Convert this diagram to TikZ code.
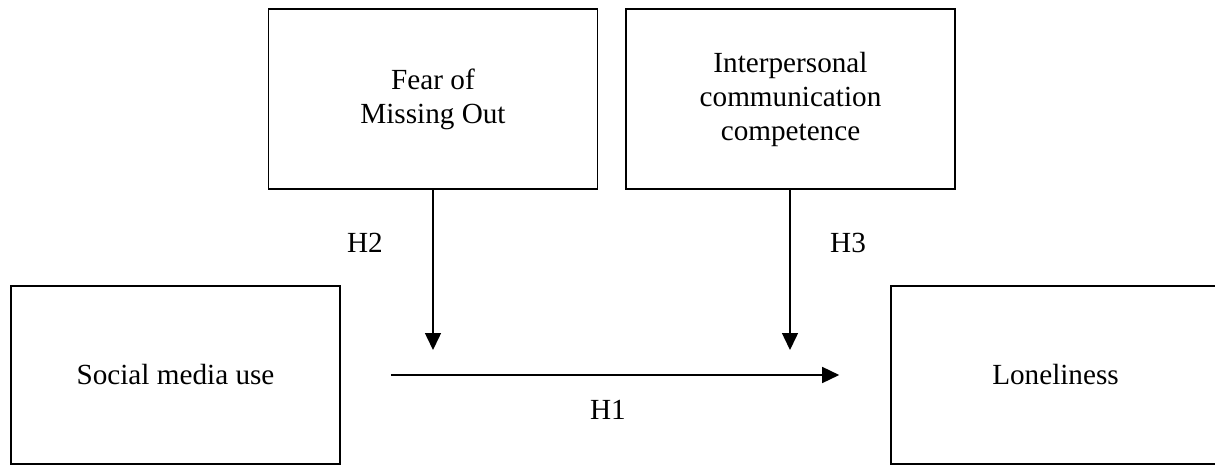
\documentclass[tikz,border=0pt]{standalone}
\usepackage{fontspec}
\setmainfont{Liberation Serif}
\usetikzlibrary{arrows.meta}

\tikzset{
    box/.style={draw, line width=0.8pt, minimum width=164.5pt, minimum height=89pt,
        inner sep=0pt, align=center, font=\fontsize{14.6}{17}\selectfont},
    lbl/.style={inner sep=0pt, font=\fontsize{14.6}{17}\selectfont},
    link/.style={line width=0.75pt, -{Triangle[length=8.5pt,width=8pt]}}
}

\begin{document}
\begin{tikzpicture}[x=0.5pt, y=-0.5pt]

    \clip (0,0) rectangle (1215,465);

    \node [box] (smu) at (175.5,375) {Social media use};
    \node [box] (lone) at (1055.5,375) {Loneliness};
    \node [box, minimum height=90pt] (fomo) at (433,99) {Fear of\\Missing Out};
    \node [box, minimum height=90pt] (ipc) at (790.5,99) {Interpersonal\\communication\\competence};

    \coordinate (t2) at (433,350);
    \coordinate (t3) at (790,350);

    \draw [link, shorten <=25pt, shorten >=25.5pt] (smu.east) -- (lone.west);
    \draw [link] (fomo.south -| t2) -- (t2);
    \draw [link] (ipc.south -| t3) -- (t3);

    \node [lbl] (h1) at (608,410) {H1};
    \node [lbl] (h2) at (365,243) {H2};
    \node [lbl] (h3) at (848,243) {H3};

\end{tikzpicture}
\end{document}
